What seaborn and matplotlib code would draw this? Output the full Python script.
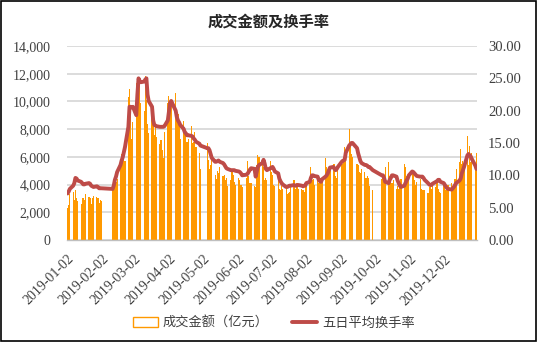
import numpy as np
import pandas as pd
import matplotlib
matplotlib.use("Agg")
import matplotlib.pyplot as plt
import matplotlib.dates as mdates
from matplotlib.patches import Patch, Rectangle
from matplotlib.lines import Line2D
import seaborn as sns

# Exchange holidays in 2019 (weekdays with no trading)
holidays = ["2019-01-01", "2019-02-04", "2019-02-05", "2019-02-06", "2019-02-07",
            "2019-02-08", "2019-04-05", "2019-05-01", "2019-05-02", "2019-05-03",
            "2019-06-07", "2019-09-13", "2019-10-01", "2019-10-02", "2019-10-03",
            "2019-10-04", "2019-10-07"]

# Daily turnover (亿元), one list per month
jan_vol = [2300, 2500, 3300, 3500, 2900, 3600, 3000, 2800, 2600, 3000, 3000, 2900, 3300, 3100, 3000, 2600, 3000, 3200, 3100, 3000, 2700, 2900]
feb_vol = [2800, 3600, 3800, 4300, 4200, 4400, 5600, 6200, 5800, 6100, 5700, 10300, 10900, 9400, 7300]
mar_vol = [8500, 11300, 9700, 10400, 11200, 9900, 9300, 11800, 10100, 8400, 7700, 8900, 8200, 7600, 8400, 7400, 6900, 7200, 6500, 5900, 7800]
apr_vol = [9900, 10400, 9300, 10100, 10600, 8800, 9100, 8300, 7300, 8600, 8100, 7900, 7100, 7300, 8200, 7000, 7100, 7800, 6700, 6300, 5100]
may_vol = [7000, 5800, 5100, 5400, 6000, 4700, 4400, 5000, 4800, 5300, 4600, 4700, 4300, 4500, 3900, 4300, 5100, 4700, 4200, 4000]
jun_vol = [4500, 4300, 4000, 3800, 4500, 5700, 4600, 4100, 4100, 3900, 3800, 5400, 6100, 6000, 5500, 5300, 4300, 4500, 4300]
jul_vol = [5700, 4900, 4700, 4000, 3900, 4500, 3700, 3600, 3900, 3700, 3800, 3300, 3400, 3500, 3800, 4300, 3700, 4100, 4100, 3700, 3700, 3600, 3500]
aug_vol = [3800, 3900, 4200, 5300, 4300, 4400, 4000, 4500, 4100, 4100, 4300, 4500, 5900, 5300, 4600, 4800, 5300, 5500, 5500, 4600, 4500, 5200]
sep_vol = [5800, 5500, 6000, 6700, 6500, 8000, 6900, 6200, 6000, 5500, 5400, 4900, 4800, 5100, 4900, 4500, 4600, 4500, 3900, 3600]
oct_vol = [4400, 4500, 4600, 5300, 5600, 4600, 4200, 4100, 4300, 3700, 3900, 3700, 3800, 4400, 5500, 5300, 4600, 4300]
nov_vol = [4400, 4800, 5000, 4300, 4000, 4200, 4400, 3700, 3600, 3600, 3600, 3400, 3800, 3800, 3700, 3900, 3800, 4200, 3700, 3500, 3400]
dec_vol = [4200, 3900, 3600, 4000, 4000, 4100, 3900, 4000, 4400, 5100, 5600, 6600, 5500, 5700, 5300, 7500, 5400, 6800, 5600, 6300, 5300, 6300]

# Five-day average turnover rate, one list per month
jan_rate = [7.2, 7.5, 7.9, 8.4, 8.8, 9.6, 9.5, 9.2, 9.0, 8.8, 8.6, 8.6, 8.7, 8.8, 8.7, 8.4, 8.3, 8.2, 8.3, 8.2, 8.0, 8.0]
feb_rate = [8.0, 7.9, 8.4, 9.3, 9.8, 10.5, 11.6, 12.3, 12.8, 13.6, 14.4, 17.5, 20.6, 20.6, 20.5]
mar_rate = [20.6, 19.3, 22.5, 25.0, 24.6, 24.4, 24.5, 24.8, 25.0, 22.5, 21.5, 20.6, 18.5, 17.8, 17.7, 17.6, 17.5, 17.5, 17.5, 17.5, 17.6]
apr_rate = [18.5, 19.8, 21.2, 21.5, 20.0, 19.0, 18.5, 18.2, 17.8, 17.2, 16.7, 16.5, 16.2, 16.2, 16.1, 16.0, 15.7, 15.5, 15.2, 14.9, 14.6]
may_rate = [14.2, 14.2, 13.9, 13.3, 12.7, 12.1, 12.1, 12.2, 12.3, 12.1, 11.9, 11.7, 11.4, 11.1, 11.0, 10.8, 10.8, 10.8, 10.8, 10.7]
jun_rate = [10.6, 10.5, 10.3, 10.0, 10.1, 10.3, 10.6, 10.9, 11.1, 11.0, 9.8, 10.6, 11.3, 11.6, 11.9, 12.4, 11.8, 11.0, 10.8]
jul_rate = [11.1, 11.2, 11.3, 11.0, 10.6, 10.3, 9.5, 9.1, 8.8, 8.6, 8.2, 8.2, 8.3, 8.4, 8.4, 8.5, 8.4, 8.4, 8.5, 8.5, 8.4, 8.3, 8.4]
aug_rate = [8.4, 8.8, 9.0, 9.6, 10.0, 10.0, 9.9, 9.8, 9.3, 9.1, 9.0, 9.4, 9.8, 10.0, 10.3, 10.8, 11.2, 11.3, 11.0, 10.8, 11.0, 11.3]
sep_rate = [12.0, 12.2, 12.3, 12.4, 13.5, 14.6, 14.8, 15.0, 15.0, 14.2, 13.4, 12.8, 12.2, 11.9, 11.6, 11.6, 11.5, 11.3, 11.3, 10.8]
oct_rate = [10.0, 10.0, 9.6, 9.0, 8.8, 9.3, 9.6, 10.0, 10.0, 9.8, 9.2, 8.8, 8.4, 8.2, 8.4, 8.8, 9.2, 9.5]
nov_rate = [10.0, 10.6, 10.5, 10.3, 10.1, 9.9, 9.8, 9.8, 9.8, 9.6, 9.3, 8.8, 8.6, 8.5, 8.5, 8.7, 9.0, 9.1, 9.3, 9.3, 9.0]
dec_rate = [8.8, 8.5, 8.2, 8.0, 7.9, 7.8, 8.0, 8.2, 8.5, 8.8, 9.2, 9.5, 10.3, 10.8, 11.3, 13.1, 13.3, 13.1, 12.9, 12.5, 11.5, 11.0]

tick_dates = ["2019-01-02", "2019-02-02", "2019-03-02", "2019-04-02", "2019-05-02", "2019-06-02",
              "2019-07-02", "2019-08-02", "2019-09-02", "2019-10-02", "2019-11-02", "2019-12-02"]

bar_label = "成交金额（亿元）"
line_label = "五日平均换手率"
title = "成交金额及换手率"

ORANGE = "#FF9900"
RED = "#BE4B48"
GRID = "#D9D9D9"
TEXT = "#404040"

# ---- assemble the daily table ----
days = pd.bdate_range("2019-01-02", "2019-12-31").difference(pd.to_datetime(holidays))
volume = sum([jan_vol, feb_vol, mar_vol, apr_vol, may_vol, jun_vol,
              jul_vol, aug_vol, sep_vol, oct_vol, nov_vol, dec_vol], [])
rate = sum([jan_rate, feb_rate, mar_rate, apr_rate, may_rate, jun_rate,
            jul_rate, aug_rate, sep_rate, oct_rate, nov_rate, dec_rate], [])
df = pd.DataFrame({"date": days, "volume": volume, "rate": rate})
df["x"] = mdates.date2num(df["date"])

sns.set_theme(style="white")
plt.rcParams["font.family"] = ["Liberation Serif", "Noto Sans CJK SC", "DejaVu Sans"]

W, H = 537, 342
fig = plt.figure(figsize=(W / 100, H / 100), dpi=100)
ax = fig.add_axes([67 / W, 1 - 240 / H, (477 - 67) / W, (240 - 46) / H])

# daily bars on a calendar axis
sns.histplot(data=df, x="x", weights="volume", discrete=True, shrink=1.0,
             color=ORANGE, alpha=1, linewidth=0, ax=ax)

ax2 = ax.twinx()
sns.lineplot(data=df, x="x", y="rate", color=RED, linewidth=2.8, ax=ax2)

x0 = mdates.date2num(pd.Timestamp("2019-01-02")) - 0.5
x1 = mdates.date2num(pd.Timestamp("2019-12-31")) + 0.5
ax.set_xlim(x0, x1)
ax.set_ylim(0, 14000)
ax2.set_ylim(0, 30)

ax.set_yticks(np.arange(0, 14001, 2000))
ax.set_yticklabels([f"{v:,}" for v in range(0, 14001, 2000)])
ax2.set_yticks(np.arange(0, 30.1, 5))
ax2.set_yticklabels([f"{v:.2f}" for v in np.arange(0, 30.1, 5)])

ticks = mdates.date2num(pd.to_datetime(tick_dates))
ax.set_xticks(ticks)
ax.set_xticklabels(tick_dates, rotation=45, ha="right", rotation_mode="anchor")

ax.yaxis.grid(True, color=GRID, linewidth=1.3)
ax.set_axisbelow(True)
for a in (ax, ax2):
    for s in a.spines.values():
        s.set_visible(False)
    a.set_xlabel("")
    a.set_ylabel("")
ax.spines["bottom"].set_visible(True)
ax.spines["bottom"].set_color("#BFBFBF")
ax.spines["bottom"].set_linewidth(1)

ax.tick_params(axis="y", length=0, pad=12, labelsize=10, labelcolor=TEXT)
ax2.tick_params(axis="y", length=0, pad=8, labelsize=10.5, labelcolor=TEXT)
ax.tick_params(axis="x", length=4, width=1, color="#BFBFBF", direction="out",
               pad=5, labelsize=10, labelcolor=TEXT)

fig.text(0.5, 1 - 22 / H, title, ha="center", va="center", fontsize=11,
         fontweight="bold", color="#262626", family=["Noto Sans CJK SC"])

handles = [Patch(facecolor="white", edgecolor=ORANGE, linewidth=1),
           Line2D([], [], color=RED, linewidth=2.8)]
fig.legend(handles, [bar_label, line_label], loc="center",
           bbox_to_anchor=(0.51, 1 - 323 / H), ncol=2, frameon=False,
           handlelength=1.9, handletextpad=0.35, columnspacing=1.8,
           prop={"family": ["Noto Sans CJK SC"], "size": 9.5}, labelcolor=TEXT)

fig.patches.append(Rectangle((0.001, 0.0015), 0.998, 0.997, transform=fig.transFigure,
                             fill=False, edgecolor="black", linewidth=1.2))

fig.savefig("out.png", dpi=100, facecolor="white")
